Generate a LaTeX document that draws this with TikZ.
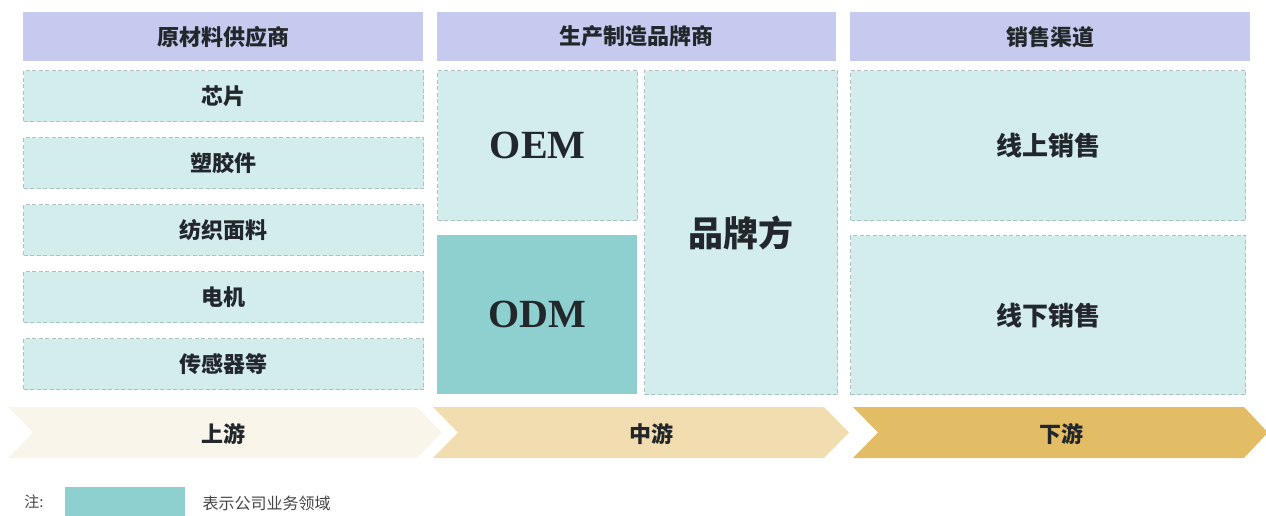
\documentclass[tikz,border=0pt]{standalone}
\usepackage{fontspec}
\newfontfamily\cjk{Noto Sans CJK SC}
\newfontfamily\tnr{Liberation Serif}
\definecolor{headc}{HTML}{C5CAEE}
\definecolor{lightc}{HTML}{D3ECEC}
\definecolor{dashc}{HTML}{A8C2C6}
\definecolor{odmc}{HTML}{8ECFCF}
\definecolor{chevA}{HTML}{FAF5EA}
\definecolor{chevB}{HTML}{F2DDB0}
\definecolor{chevC}{HTML}{E3BC66}
\definecolor{txt}{HTML}{22272B}
\definecolor{notec}{HTML}{444444}
\tikzset{
  cell/.style={rectangle, inner sep=0pt, anchor=north west, text=txt, align=center},
  head/.style={cell, fill=headc, font=\cjk\bfseries\fontsize{22}{22}\selectfont},
  lbox/.style={cell, fill=lightc, draw=dashc, line width=1.3pt, dash pattern=on 4pt off 2.5pt},
  small/.style={font=\cjk\bfseries\fontsize{22}{22}\selectfont},
  mid/.style={font=\cjk\bfseries\fontsize{26}{26}\selectfont},
  big/.style={font=\cjk\bfseries\fontsize{35}{35}\selectfont},
  latin/.style={font=\tnr\bfseries\fontsize{40}{40}\selectfont},
  chevlabel/.style={text=txt, font=\cjk\bfseries\fontsize{22}{22}\selectfont},
}
\begin{document}
\begin{tikzpicture}[x=1pt,y=-1pt]
\useasboundingbox (0,0) rectangle (1266,515);
% headers
\node[head, minimum width=400pt, minimum height=49pt] (h1) at (23,12) {原材料供应商};
\node[head, minimum width=399pt, minimum height=49pt] (h2) at (437,12) {生产制造品牌商};
\node[head, minimum width=400pt, minimum height=49pt] (h3) at (850,12) {销售渠道};
% left column
\node[lbox, small, minimum width=400pt, minimum height=51pt] (a1) at (23,70) {芯片};
\node[lbox, small, minimum width=400pt, minimum height=51pt] (a2) at (23,137) {塑胶件};
\node[lbox, small, minimum width=400pt, minimum height=51pt] (a3) at (23,204) {纺织面料};
\node[lbox, small, minimum width=400pt, minimum height=51pt] (a4) at (23,271) {电机};
\node[lbox, small, minimum width=400pt, minimum height=51pt] (a5) at (23,338) {传感器等};
% middle column
\node[lbox, latin, minimum width=200pt, minimum height=150pt] (oem) at (437,70) {OEM};
\node[cell, fill=odmc, latin, minimum width=200pt, minimum height=159pt] (odm) at (437,235) {ODM};
\node[lbox, big, minimum width=193pt, minimum height=324pt] (brand) at (644,70) {品牌方};
% right column
\node[lbox, mid, minimum width=395pt, minimum height=150pt] (on) at (850,70) {线上销售};
\node[lbox, mid, minimum width=395pt, minimum height=159pt] (off) at (850,235) {线下销售};
% chevrons
\fill[chevA] (8,407) -- (417,407) -- (442,432.5) -- (417,458) -- (8,458) -- (33,432.5) -- cycle;
\fill[chevB] (433,407) -- (824,407) -- (849,432.5) -- (824,458) -- (433,458) -- (458,432.5) -- cycle;
\fill[chevC] (853,407) -- (1244,407) -- (1268,432.5) -- (1244,458) -- (853,458) -- (878,432.5) -- cycle;
\node[chevlabel] (up) at (223,434) {上游};
\node[chevlabel] (midstream) at (651,434) {中游};
\node[chevlabel] (down) at (1061,434) {下游};
% legend
\node[text=notec, font=\cjk\fontsize{15}{15}\selectfont] (note) at (34,502) {注:};
\node[rectangle, fill=odmc, inner sep=0pt, anchor=north west, minimum width=120pt, minimum height=30pt] (key) at (65,487) {};
\node[text=notec, font=\cjk\fontsize{16}{16}\selectfont, anchor=west] (keytext) at (199,503) {表示公司业务领域};
\end{tikzpicture}
\end{document}
